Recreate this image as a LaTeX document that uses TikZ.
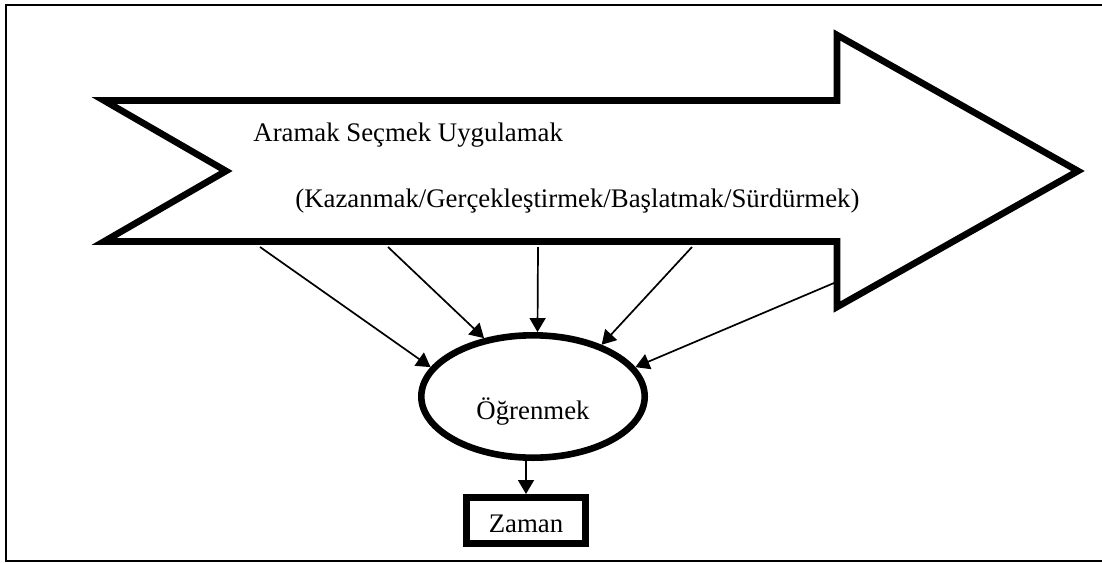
\documentclass[tikz,border=0pt]{standalone}
\usepackage{fontspec}
\setmainfont{Liberation Serif}
\usetikzlibrary{shapes.geometric,arrows.meta}
\begin{document}
\begin{tikzpicture}[x=0.5pt,y=-0.5pt,
  heavy/.style={line width=3.3pt},
  feed/.style={line width=0.85pt,-{Triangle[length=7pt,width=8pt]}},
  lbl/.style={font=\fontsize{13.4}{16}\selectfont, inner sep=0pt},
]
\useasboundingbox (0,0) rectangle (1102,562);
% outer frame (right side runs past the page edge)
\draw[line width=1pt] (6,5) rectangle (1110,560.5);

% big process arrow
\draw[heavy] (104,100.5) -- (837,100.5) -- (837,35) -- (1078,171) -- (837,307)
  -- (837,241.5) -- (104,241.5) -- (226,171) -- cycle;
\node[lbl, anchor=base west] (verbs) at (253,141.7) {Aramak Seçmek Uygulamak};
\node[lbl, anchor=base west] (modes) at (295,207) {(Kazanmak/Gerçekleştirmek/Başlatmak/Sürdürmek)};

% learning and time
\node[draw, heavy, ellipse, lbl, minimum width=111.7pt, minimum height=61.2pt,
  text height=25.8pt] (learn) at (533,396.5) {Öğrenmek};
\node[draw, heavy, lbl, minimum width=59.7pt, minimum height=23.2pt,
  text height=12.2pt] (time) at (526,520.5) {Zaman};

% feeds from the arrow into learning
\coordinate (s1) at (260,247);
\coordinate (s2) at (388,247);
\coordinate (s3) at (538,247);
\coordinate (s4) at (692,247);
\coordinate (s5) at (834,283);
\draw[feed] (s1) -- (learn.164);
\draw[feed] (s2) -- (learn.130);
\draw[feed] (s3) -- (learn.86);
\draw[feed] (s4) -- (learn.37);
\draw[feed] (s5) -- (learn.16);
\draw[feed] (learn.south -| time.north) -- (time.north);
\end{tikzpicture}
\end{document}
